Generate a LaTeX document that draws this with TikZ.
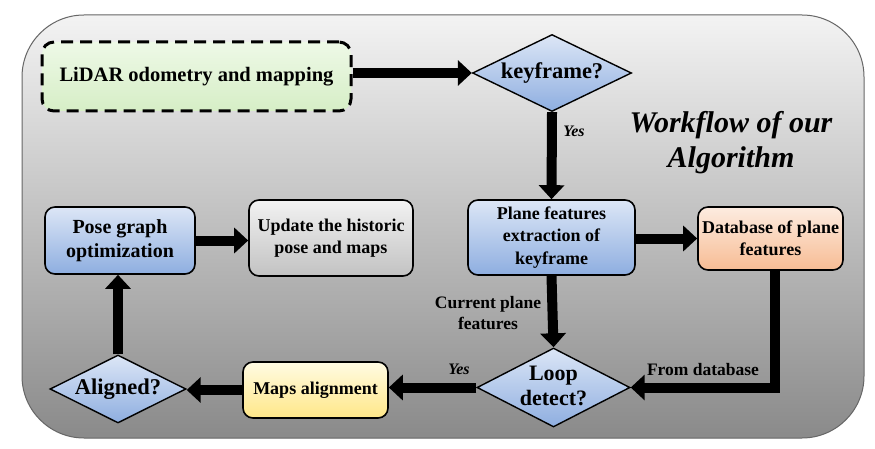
\documentclass[tikz,border=0pt]{standalone}
\usepackage{fontspec}
\setmainfont{Liberation Serif}
\usetikzlibrary{shapes.geometric,arrows.meta}
\definecolor{bluetop}{HTML}{DCE6F6}
\definecolor{bluebot}{HTML}{8EAEE0}
\definecolor{greentop}{HTML}{EEF9E7}
\definecolor{greenbot}{HTML}{D6EEC6}
\definecolor{orangetop}{HTML}{FDECE0}
\definecolor{orangebot}{HTML}{F7BC94}
\definecolor{yellowtop}{HTML}{FFFBE3}
\definecolor{yellowbot}{HTML}{FFE788}
\definecolor{graytop}{HTML}{F2F2F2}
\definecolor{graybot}{HTML}{C2C2C2}
\definecolor{frametop}{HTML}{F3F3F3}
\definecolor{framebot}{HTML}{8A8A8A}
\newcommand{\zbox}[1]{\smash{\makebox[0pt]{\raisebox{-0.25em}{\begin{tabular}{@{}c@{}}#1\end{tabular}}}}}
\begin{document}
\begin{tikzpicture}[x=1pt,y=-1pt,
  box/.style={draw=black, line width=1.6pt, rounded corners=10pt, align=center, inner sep=0pt,
    font=\bfseries\fontsize{18}{22.5}\selectfont},
  bluebox/.style={box, top color=bluetop, bottom color=bluebot},
  dia/.style={diamond, draw=black, line width=1.4pt, inner sep=0pt,
    top color=bluetop, bottom color=bluebot,
    font=\bfseries\fontsize{22.5}{25}\selectfont},
  flow/.style={line width=10pt, -{Triangle[length=14pt,width=25pt]}},
  lab/.style={font=\bfseries\fontsize{17.5}{21.5}\selectfont, align=center, inner sep=0pt},
  yes/.style={font=\bfseries\itshape\fontsize{16}{19}\selectfont, inner sep=0pt},
]
\fill[white] (0,0) rectangle (875,449);
\useasboundingbox (0,0) rectangle (875,449);
\draw[draw=black!60, line width=1pt, rounded corners=62pt, top color=frametop, bottom color=framebot]
  (22,15) rectangle (864,438);

% nodes
\node[box, dash pattern=on 12pt off 7pt, line width=3pt, rounded corners=12pt,
  top color=greentop, bottom color=greenbot, minimum width=309pt, minimum height=69pt,
  font=\bfseries\fontsize{20.5}{24}\selectfont] (lidar) at (196.5,76.5) {LiDAR odometry and mapping};
\node[dia, minimum width=159pt, minimum height=77pt] (key) at (552,73) {\zbox{keyframe?}};
\node[bluebox, minimum width=167pt, minimum height=75pt] (plane) at (551.5,237.5) {Plane features\\extraction of\\keyframe};
\node[box, top color=orangetop, bottom color=orangebot, minimum width=145pt, minimum height=63pt] (db) at (770.5,238.5) {Database of plane\\features};
\node[dia, minimum width=153pt, minimum height=79pt, font=\bfseries\fontsize{22}{25}\selectfont] (loop) at (553.5,387.5) {\zbox{Loop\\detect?}};
\node[box, top color=yellowtop, bottom color=yellowbot, minimum width=145pt, minimum height=56pt] (maps) at (315.5,390) {Maps alignment};
\node[dia, minimum width=136pt, minimum height=68pt] (aligned) at (118,389) {\zbox{Aligned?}};
\node[bluebox, minimum width=150pt, minimum height=67pt, font=\bfseries\fontsize{20}{23.5}\selectfont] (pose) at (120,240.5) {Pose graph\\optimization};
\node[box, top color=graytop, bottom color=graybot, minimum width=164pt, minimum height=76pt] (update) at (331,238) {Update the historic\\pose and maps};

% title and labels
\node[font=\bfseries\itshape\fontsize{30}{35}\selectfont, align=center, inner sep=0pt] (title) at (731,143) {Workflow of our\\Algorithm};
\node[yes] (yes1) at (574,131) {Yes};
\node[yes] (yes2) at (459,369.5) {Yes};
\node[lab] (cur) at (488,313) {Current plane\\features};
\node[lab] (from) at (703,370) {From database};

% connectors
\draw[flow] (lidar.east |- key) -- (key.west);
\draw[flow] (key.south) -- (plane.north);
\draw[flow] (plane.east |- db) -- (db.west);
\draw[flow] (plane.south) -- (loop.north);
\draw[flow] ([xshift=4pt]db.south) |- (loop.east);
\draw[flow] (loop.west) -- (maps.east |- loop);
\draw[flow] (maps.west) -- (aligned.east |- maps);
\draw[flow] (aligned.north) -- (aligned.north |- pose.south);
\draw[flow] (pose.east) -- (update.west |- pose);
\end{tikzpicture}
\end{document}
